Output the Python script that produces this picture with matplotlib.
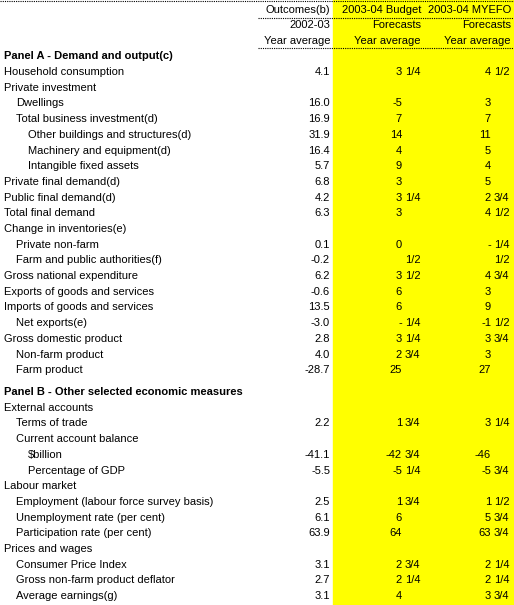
import matplotlib
matplotlib.use("Agg")
import matplotlib.pyplot as plt
from matplotlib.patches import Rectangle

labels_a = ["Household consumption", "Private investment", "Dwellings", "Total business investment(d)",
            "Other buildings and structures(d)", "Machinery and equipment(d)", "Intangible fixed assets",
            "Private final demand(d)", "Public final demand(d)", "Total final demand", "Change in inventories(e)",
            "Private non-farm", "Farm and public authorities(f)", "Gross national expenditure",
            "Exports of goods and services", "Imports of goods and services", "Net exports(e)",
            "Gross domestic product", "Non-farm product", "Farm product"]
indent_a = [0, 0, 1, 1, 2, 2, 2, 0, 0, 0, 0, 1, 1, 0, 0, 0, 1, 0, 1, 1]
outcome_a = ["4.1", "", "16.0", "16.9", "31.9", "16.4", "5.7", "6.8", "4.2", "6.3", "", "0.1", "-0.2", "6.2",
             "-0.6", "13.5", "-3.0", "2.8", "4.0", "-28.7"]
budget_a = ["3 1/4", "", "-5", "7", "14", "4", "9", "3", "3 1/4", "3", "", "0", "1/2", "3 1/2", "6", "6",
            "- 1/4", "3 1/4", "2 3/4", "25"]
myefo_a = ["4 1/2", "", "3", "7", "11", "5", "4", "5", "2 3/4", "4 1/2", "", "- 1/4", "1/2", "4 3/4", "3", "9",
           "-1 1/2", "3 3/4", "3", "27"]

labels_b = ["External accounts", "Terms of trade", "Current account balance", "$billion", "Percentage of GDP",
            "Labour market", "Employment (labour force survey basis)", "Unemployment rate (per cent)",
            "Participation rate (per cent)", "Prices and wages", "Consumer Price Index",
            "Gross non-farm product deflator", "Average earnings(g)"]
indent_b = [0, 1, 1, 2, 2, 0, 1, 1, 1, 0, 1, 1, 1]
outcome_b = ["", "2.2", "", "-41.1", "-5.5", "", "2.5", "6.1", "63.9", "", "3.1", "2.7", "3.1"]
budget_b = ["", "1 3/4", "", "-42 3/4", "-5 1/4", "", "1 3/4", "6", "64", "", "2 3/4", "2 1/4", "4"]
myefo_b = ["", "3 1/4", "", "-46", "-5 3/4", "", "1 1/2", "5 3/4", "63 3/4", "", "2 1/4", "2 1/4", "3 3/4"]

W, H = 514, 605
fig = plt.figure(figsize=(W/100, H/100), dpi=100)
ax = fig.add_axes([0, 0, 1, 1])
ax.set_xlim(0, W); ax.set_ylim(H, 0); ax.axis("off")
FONT = dict(family="Liberation Sans", fontsize=8, va="center")

ax.add_patch(Rectangle((333, 0), W-333, H, color="#ffff00", zorder=0))
ax.plot([0, W], [1, 1], color="black", lw=0.8, ls=(0, (1, 1)))
ax.plot([258, W], [18, 18], color="black", lw=0.8, ls=(0, (1, 1)))
ax.plot([258, W], [48, 48], color="black", lw=0.8, ls=(0, (1, 1)))

hdr = [("Outcomes(b)", "2003-04 Budget", "2003-04 MYEFO"),
       ("2002-03", "Forecasts", "Forecasts"),
       ("Year average", "Year average", "Year average")]
for i, (a, b, c) in enumerate(hdr):
    y = 10 + i*15.5
    ax.text(330, y, a, ha="right", **FONT)
    ax.text(421, y, b, ha="right", **FONT)
    ax.text(511, y, c, ha="right", **FONT)

def fcell(x_int, y, s):
    if not s:
        return
    parts = s.rsplit(" ", 1) if "/" in s else [s]
    if "/" in s and " " not in s:
        parts = ["", s]
    if len(parts) == 2:
        ax.text(x_int, y, parts[0], ha="right", **FONT)
        ax.text(x_int + 3, y, parts[1], ha="left", **FONT)
    else:
        ax.text(x_int, y, parts[0], ha="right", **FONT)

def rows(y0, labels, ind, oc, bu, my):
    for i, lab in enumerate(labels):
        y = y0 + i*15.7
        ax.text(4 + 12*ind[i], y, lab, ha="left", **FONT)
        if oc[i]:
            ax.text(330, y, oc[i], ha="right", **FONT)
        fcell(402, y, bu[i])
        fcell(491, y, my[i])

ax.text(4, 56, "Panel A - Demand and output(c)", ha="left", fontweight="bold", **FONT)
rows(72, labels_a, indent_a, outcome_a, budget_a, myefo_a)
ax.text(4, 392, "Panel B - Other selected economic measures", ha="left", fontweight="bold", **FONT)
rows(407.7, labels_b, indent_b, outcome_b, budget_b, myefo_b)

fig.savefig("out.png", dpi=100)
